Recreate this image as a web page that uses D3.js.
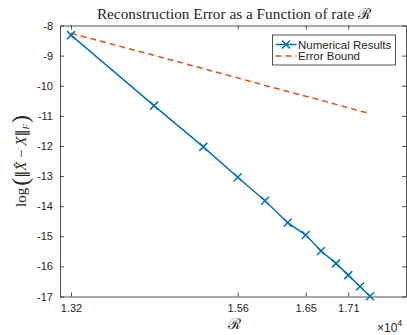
<!DOCTYPE html>
<html>
<head>
<meta charset="utf-8">
<script src="https://cdn.jsdelivr.net/npm/d3@7"></script>
<style>
  body { margin: 0; background: #fff; }
  text { fill: #262626; }
</style>
</head>
<body>
<script>
// rate R (in units of 1e4) and log reconstruction error
const rate = [1.3159, 1.4358, 1.5071, 1.5568, 1.5962, 1.6290, 1.6551, 1.6772, 1.6988, 1.7166, 1.7335, 1.7480];
const numerical = [-8.32, -10.66, -12.03, -13.04, -13.82, -14.55, -14.96, -15.49, -15.90, -16.29, -16.67, -16.99];
const bound = [-8.26, -8.99, -9.43, -9.74, -9.99, -10.19, -10.35, -10.48, -10.62, -10.73, -10.84, -10.92];
const xTickValues = [1.3159, 1.5568, 1.6551, 1.7166];
const xTickLabels = ['1.32', '1.56', '1.65', '1.71'];
const yTickValues = [-17, -16, -15, -14, -13, -12, -11, -10, -9, -8];

const width = 407, height = 335;
const plotLeft = 60, plotRight = 406, plotTop = 25.5, plotBottom = 296.5;

const svg = d3.select('body').append('svg')
    .attr('width', width)
    .attr('height', height);

const x = d3.scaleLinear().domain([1.30, 1.80]).range([plotLeft, plotRight]);
const y = d3.scaleLinear().domain([-17, -8]).range([plotBottom, plotTop]);

const sans = '"Liberation Sans", Arial, Helvetica, sans-serif';
const serif = '"Liberation Serif", "DejaVu Serif", serif';

// axes, ticks pointing inward like matlab
function styleAxis(g) {
    g.selectAll('path').attr('stroke', '#262626').attr('stroke-width', 0.8);
    g.selectAll('line').attr('stroke', '#262626').attr('stroke-width', 0.8);
    g.selectAll('text').attr('font-family', sans).attr('font-size', 11).attr('fill', '#262626');
}

svg.append('g')
    .attr('transform', `translate(0,${plotBottom})`)
    .call(d3.axisBottom(x).tickValues(xTickValues)
        .tickFormat((d, i) => xTickLabels[i])
        .tickSizeInner(-4).tickSizeOuter(0).tickPadding(8))
    .call(styleAxis);

svg.append('g')
    .attr('transform', `translate(0,${plotTop})`)
    .call(d3.axisTop(x).tickValues(xTickValues).tickFormat('')
        .tickSizeInner(-4).tickSizeOuter(0))
    .call(styleAxis);

svg.append('g')
    .attr('transform', `translate(${plotLeft},0)`)
    .call(d3.axisLeft(y).tickValues(yTickValues)
        .tickFormat(d => String(d))
        .tickSizeInner(-4).tickSizeOuter(0).tickPadding(7))
    .call(styleAxis);

svg.append('g')
    .attr('transform', `translate(${plotRight},0)`)
    .call(d3.axisRight(y).tickValues(yTickValues).tickFormat('')
        .tickSizeInner(-4).tickSizeOuter(0))
    .call(styleAxis);

// both series share the rate axis
const line = d3.line()
    .x((d, i) => x(rate[i]))
    .y(d => y(d));

// error bound, dashed
svg.append('path')
    .datum(bound)
    .attr('fill', 'none')
    .attr('stroke', '#D95319')
    .attr('stroke-width', 1.5)
    .attr('stroke-dasharray', '6,4')
    .attr('d', line);

// numerical results with x markers
svg.append('path')
    .datum(numerical)
    .attr('fill', 'none')
    .attr('stroke', '#0072BD')
    .attr('stroke-width', 1.5)
    .attr('d', line);

const m = 4;
const cross = (cx, cy) => `M${cx - m},${cy - m}L${cx + m},${cy + m}M${cx - m},${cy + m}L${cx + m},${cy - m}`;

svg.append('g').selectAll('path')
    .data(numerical)
    .join('path')
    .attr('d', (d, i) => cross(x(rate[i]), y(d)))
    .attr('stroke', '#0072BD')
    .attr('stroke-width', 1.5)
    .attr('fill', 'none');

// title
svg.append('text')
    .attr('x', 234)
    .attr('y', 19)
    .attr('text-anchor', 'middle')
    .attr('font-family', serif)
    .attr('font-size', 15.3)
    .text('Reconstruction Error as a Function of rate \u211B');

// x label and exponent
svg.append('text')
    .attr('x', 234)
    .attr('y', 329)
    .attr('text-anchor', 'middle')
    .attr('font-family', serif)
    .attr('font-size', 15)
    .text('\u211B');

const expo = svg.append('text')
    .attr('x', 377)
    .attr('y', 332)
    .attr('font-family', sans)
    .attr('font-size', 12);
expo.append('tspan').text('\u00D710');
expo.append('tspan').attr('dy', -6).attr('font-size', 9).text('4');

// y label
const yl = svg.append('text')
    .attr('transform', `translate(26,${(plotTop + plotBottom) / 2}) rotate(-90)`)
    .attr('text-anchor', 'middle')
    .attr('font-family', serif)
    .attr('font-size', 15);
yl.append('tspan').text('log');
yl.append('tspan').attr('font-size', 24).attr('dy', 2).attr('dx', 2).text('(');
yl.append('tspan').attr('dy', -2).attr('font-family', '"DejaVu Serif", serif').attr('font-size', 14).text('\u2016');
yl.append('tspan').attr('font-style', 'italic').text('X\u0302');
yl.append('tspan').text(' \u2212 ');
yl.append('tspan').attr('font-style', 'italic').text('X');
yl.append('tspan').attr('font-family', '"DejaVu Serif", serif').attr('font-size', 14).text('\u2016');
yl.append('tspan').attr('font-style', 'italic').attr('font-size', 9).attr('dy', 3).text('F');
yl.append('tspan').attr('font-size', 24).attr('dy', -1).attr('dx', 1).text(')');

// legend
const lg = svg.append('g').attr('transform', 'translate(272.5,35)');
lg.append('rect')
    .attr('width', 123)
    .attr('height', 30)
    .attr('fill', '#fff')
    .attr('stroke', '#262626')
    .attr('stroke-width', 0.8);

lg.append('line')
    .attr('x1', 3).attr('x2', 24).attr('y1', 9.5).attr('y2', 9.5)
    .attr('stroke', '#0072BD').attr('stroke-width', 1.5);
lg.append('path')
    .attr('d', cross(13.5, 9.5))
    .attr('stroke', '#0072BD').attr('stroke-width', 1.5);
lg.append('line')
    .attr('x1', 3).attr('x2', 24).attr('y1', 21).attr('y2', 21)
    .attr('stroke', '#D95319').attr('stroke-width', 1.5)
    .attr('stroke-dasharray', '6,4');

lg.append('text').attr('x', 25.5).attr('y', 13.5)
    .attr('font-family', sans).attr('font-size', 11.5)
    .text('Numerical Results');
lg.append('text').attr('x', 25.5).attr('y', 25)
    .attr('font-family', sans).attr('font-size', 11.5)
    .text('Error Bound');
</script>
</body>
</html>
